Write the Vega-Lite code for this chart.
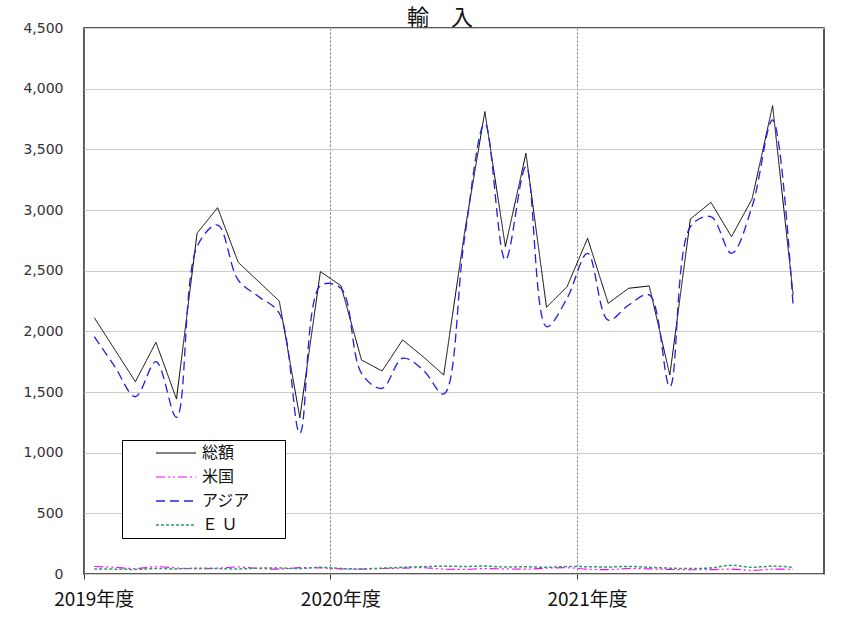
{
  "$schema": "https://vega.github.io/schema/vega-lite/v6.json",
  "width": 740,
  "height": 546,
  "autosize": {"type": "none"},
  "padding": {"left": 84, "top": 28, "right": 44, "bottom": 46},
  "background": "white",
  "config": {
    "view": {"stroke": "#222", "strokeWidth": 1.5},
    "font": "Noto Sans CJK JP",
    "legend": {
      "title": null,
      "orient": "none",
      "legendX": 38,
      "legendY": 412,
      "strokeColor": "#000",
      "fillColor": "#fff",
      "padding": 2,
      "rowPadding": 2,
      "symbolType": "stroke",
      "symbolSize": 1600,
      "symbolOffset": 31,
      "labelFont": "Noto Sans CJK JP",
      "labelFontSize": 16,
      "labelColor": "#111",
      "labelOffset": 5,
      "clipHeight": 22
    }
  },
  "title": {"text": "輸　入", "fontSize": 22, "fontWeight": "normal", "color": "#111", "font": "Noto Sans CJK JP", "offset": 0, "dy": 9, "dx": -14, "anchor": "middle"},
  "data": {"values": [
    {"month": "2019-04", "総額": 2112, "米国": 62, "アジア": 1956, "EU": 42},
    {"month": "2019-05", "総額": 1849, "米国": 55, "アジア": 1709, "EU": 40},
    {"month": "2019-06", "総額": 1585, "米国": 45, "アジア": 1461, "EU": 38},
    {"month": "2019-07", "総額": 1910, "米国": 60, "アジア": 1750, "EU": 45},
    {"month": "2019-08", "総額": 1442, "米国": 50, "アジア": 1291, "EU": 42},
    {"month": "2019-09", "総額": 2808, "米国": 42, "アジア": 2698, "EU": 48},
    {"month": "2019-10", "総額": 3019, "米国": 48, "アジア": 2876, "EU": 45},
    {"month": "2019-11", "総額": 2569, "米国": 58, "アジア": 2423, "EU": 42},
    {"month": "2019-12", "総額": 2409, "米国": 45, "アジア": 2286, "EU": 48},
    {"month": "2020-01", "総額": 2250, "米国": 40, "アジア": 2149, "EU": 50},
    {"month": "2020-02", "総額": 1288, "米国": 52, "アジア": 1160, "EU": 45},
    {"month": "2020-03", "総額": 2492, "米国": 50, "アジア": 2376, "EU": 55},
    {"month": "2020-04", "総額": 2376, "米国": 42, "アジア": 2355, "EU": 45},
    {"month": "2020-05", "総額": 1764, "米国": 40, "アジア": 1654, "EU": 42},
    {"month": "2020-06", "総額": 1673, "米国": 45, "アジア": 1530, "EU": 48},
    {"month": "2020-07", "総額": 1929, "米国": 48, "アジア": 1778, "EU": 55},
    {"month": "2020-08", "総額": 1791, "米国": 52, "アジア": 1681, "EU": 60},
    {"month": "2020-09", "総額": 1640, "米国": 40, "アジア": 1484, "EU": 65},
    {"month": "2020-10", "総額": 2800, "米国": 38, "アジア": 2753, "EU": 62},
    {"month": "2020-11", "総額": 3811, "米国": 45, "アジア": 3714, "EU": 65},
    {"month": "2020-12", "総額": 2698, "米国": 42, "アジア": 2588, "EU": 58},
    {"month": "2021-01", "総額": 3467, "米国": 40, "アジア": 3357, "EU": 60},
    {"month": "2021-02", "総額": 2198, "米国": 48, "アジア": 2038, "EU": 55},
    {"month": "2021-03", "総額": 2368, "米国": 52, "アジア": 2272, "EU": 62},
    {"month": "2021-04", "総額": 2767, "米国": 40, "アジア": 2643, "EU": 60},
    {"month": "2021-05", "総額": 2231, "米国": 36, "アジア": 2093, "EU": 58},
    {"month": "2021-06", "総額": 2355, "米国": 45, "アジア": 2217, "EU": 62},
    {"month": "2021-07", "総額": 2374, "米国": 42, "アジア": 2300, "EU": 55},
    {"month": "2021-08", "総額": 1640, "米国": 38, "アジア": 1544, "EU": 48},
    {"month": "2021-09", "総額": 2926, "米国": 35, "アジア": 2862, "EU": 45},
    {"month": "2021-10", "総額": 3063, "米国": 36, "アジア": 2945, "EU": 50},
    {"month": "2021-11", "総額": 2780, "米国": 40, "アジア": 2643, "EU": 72},
    {"month": "2021-12", "総額": 3091, "米国": 30, "アジア": 3027, "EU": 55},
    {"month": "2022-01", "総額": 3860, "米国": 40, "アジア": 3742, "EU": 65},
    {"month": "2022-02", "総額": 2300, "米国": 38, "アジア": 2203, "EU": 55}
  ]},
  "transform": [
    {"fold": ["総額", "米国", "アジア", "EU"], "as": ["series", "value"]}
  ],
  "encoding": {
    "x": {
      "field": "month",
      "type": "ordinal",
      "bandPosition": 0.5,
      "scale": {
        "type": "band",
        "paddingInner": 0,
        "paddingOuter": 0,
        "domain": ["2019-04","2019-05","2019-06","2019-07","2019-08","2019-09","2019-10","2019-11","2019-12","2020-01","2020-02","2020-03",
                   "2020-04","2020-05","2020-06","2020-07","2020-08","2020-09","2020-10","2020-11","2020-12","2021-01","2021-02","2021-03",
                   "2021-04","2021-05","2021-06","2021-07","2021-08","2021-09","2021-10","2021-11","2021-12","2022-01","2022-02","2022-03"]
      },
      "axis": {
        "values": ["2019-04", "2020-04", "2021-04"],
        "bandPosition": 0,
        "labelExpr": "slice(datum.value, 0, 4) + '年度'",
        "labelAngle": 0,
        "labelAlign": "center",
        "labelOffset": 0,
        "labelFontSize": 19,
        "labelFont": "Noto Sans CJK JP",
        "labelColor": "#111",
        "labelPadding": 11,
        "ticks": true,
        "tickSize": 5,
        "tickColor": "#333",
        "grid": true,
        "gridColor": "#777",
        "gridDash": [2, 2],
        "gridWidth": 1,
        "domain": false,
        "title": null
      }
    },
    "y": {
      "field": "value",
      "type": "quantitative",
      "scale": {"domain": [0, 4500], "nice": false},
      "axis": {
        "values": [0, 500, 1000, 1500, 2000, 2500, 3000, 3500, 4000, 4500],
        "format": ",.0f",
        "labelFont": "DejaVu Sans",
        "labelFontSize": 14,
        "labelColor": "#333",
        "labelPadding": 21,
        "ticks": false,
        "grid": true,
        "gridColor": "#cccccc",
        "gridWidth": 1,
        "domain": false,
        "title": null
      }
    },
    "color": {
      "field": "series",
      "type": "nominal",
      "scale": {"domain": ["総額", "米国", "アジア", "EU"], "range": ["#000000", "#ff00ff", "#2323e6", "#33996a"]},
      "legend": {
        "labelExpr": "(datum.value == 'EU' ? 'Ｅ Ｕ' : datum.value) + '\u3000\u3000\u200b'"
      }
    },
    "strokeDash": {
      "field": "series",
      "type": "nominal",
      "scale": {"domain": ["総額", "米国", "アジア", "EU"], "range": [[1, 0], [9, 3, 2, 3, 2, 3], [9, 5], [3, 2]]},
      "legend": {
        "labelExpr": "(datum.value == 'EU' ? 'Ｅ Ｕ' : datum.value) + '\u3000\u3000\u200b'"
      }
    },
    "strokeWidth": {
      "field": "series",
      "type": "nominal",
      "scale": {"domain": ["総額", "米国", "アジア", "EU"], "range": [1, 1.5, 2, 1.5]},
      "legend": null
    }
  },
  "layer": [
    {
      "transform": [{"filter": "datum.series == '総額'"}],
      "mark": {"type": "line", "clip": true, "interpolate": "linear"}
    },
    {
      "transform": [{"filter": "datum.series != '総額'"}],
      "mark": {"type": "line", "clip": true, "interpolate": "catmull-rom"}
    }
  ]
}
